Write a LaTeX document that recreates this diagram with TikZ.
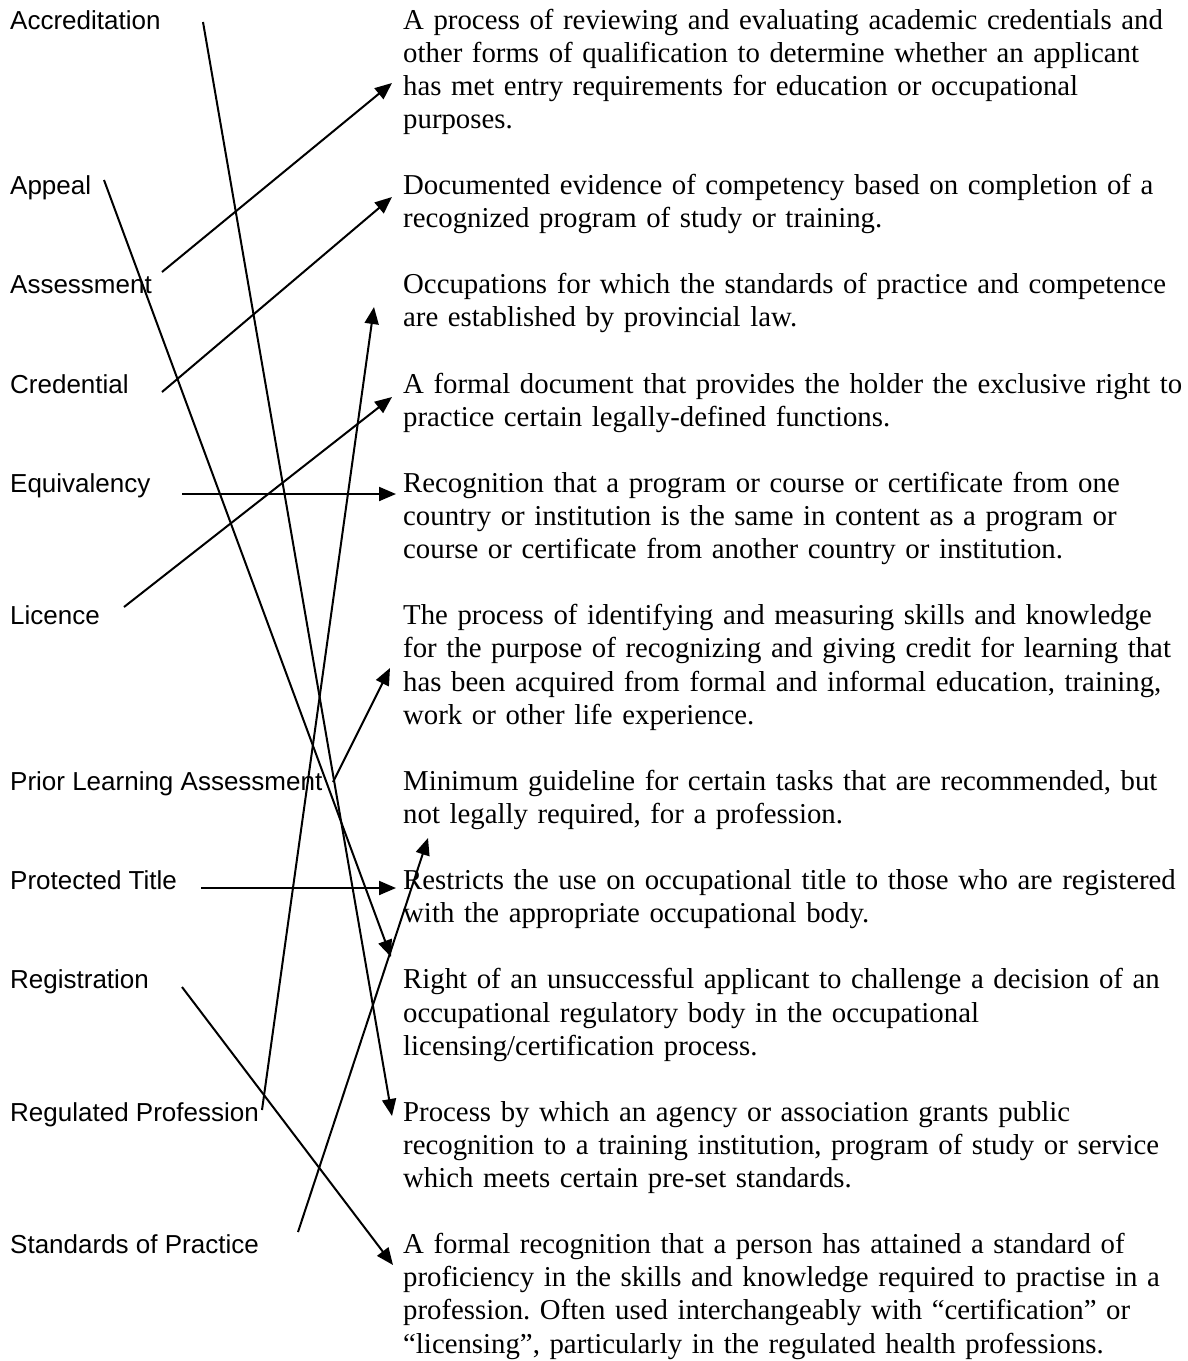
\documentclass[tikz,border=0pt]{standalone}
\usepackage{fontspec}
\setmainfont{Liberation Serif}
\setsansfont{Liberation Sans}
\usetikzlibrary{arrows.meta}
\frenchspacing

\begin{document}
\begin{tikzpicture}[x=1pt,y=-1pt,
  term/.style={anchor=base west,inner sep=0pt,font=\sffamily\fontsize{26}{31}\selectfont},
  defn/.style={anchor=base west,inner sep=0pt,text width=830pt,align=left,
    font=\rmfamily\fontsize{28.8}{33.1}\selectfont},
  link/.style={line width=2pt,-{Triangle[length=17pt,width=14pt]}}]
\useasboundingbox (0,0) rectangle (1188,1361);

% terms
\node[term] (acc)  at (10,29)     {Accreditation};
\node[term] (app)  at (10,194.5)  {Appeal};
\node[term] (ass)  at (10,293.8)  {Assessment};
\node[term] (cred) at (10,393.1)  {Credential};
\node[term] (equ)  at (10,492.4)  {Equivalency};
\node[term] (lic)  at (10,624.8)  {Licence};
\node[term] (pla)  at (10,790.3)  {Prior Learning Assessment};
\node[term] (prot) at (10,889.6)  {Protected Title};
\node[term] (reg)  at (10,988.9)  {Registration};
\node[term] (regp) at (10,1121.3) {Regulated Profession};
\node[term] (std)  at (10,1253.7) {Standards of Practice};

% definitions
\node[defn] (dass) at (403,29) {A process of reviewing and evaluating academic credentials and\\
other forms of qualification to determine whether an applicant\\
has met entry requirements for education or occupational\\
purposes.};
\node[defn] (dcred) at (403,194.5) {Documented evidence of competency based on completion of a\\
recognized program of study or training.};
\node[defn] (dregp) at (403,293.8) {Occupations for which the standards of practice and competence\\
are established by provincial law.};
\node[defn] (dlic) at (403,393.1) {A formal document that provides the holder the exclusive right to\\
practice certain legally-defined functions.};
\node[defn] (dequ) at (403,492.4) {Recognition that a program or course or certificate from one\\
country or institution is the same in content as a program or\\
course or certificate from another country or institution.};
\node[defn] (dpla) at (403,624.8) {The process of identifying and measuring skills and knowledge\\
for the purpose of recognizing and giving credit for learning that\\
has been acquired from formal and informal education, training,\\
work or other life experience.};
\node[defn] (dstd) at (403,790.3) {Minimum guideline for certain tasks that are recommended, but\\
not legally required, for a profession.};
\node[defn] (dprot) at (403,889.6) {Restricts the use on occupational title to those who are registered\\
with the appropriate occupational body.};
\node[defn] (dapp) at (403,988.9) {Right of an unsuccessful applicant to challenge a decision of an\\
occupational regulatory body in the occupational\\
licensing/certification process.};
\node[defn] (dacc) at (403,1121.3) {Process by which an agency or association grants public\\
recognition to a training institution, program of study or service\\
which meets certain pre-set standards.};
\node[defn] (dreg) at (403,1253.7) {A formal recognition that a person has attained a standard of\\
proficiency in the skills and knowledge required to practise in a\\
profession. Often used interchangeably with “certification” or\\
“licensing”, particularly in the regulated health professions.};

% line ends
\coordinate (acc-s)  at (203,22);   \coordinate (acc-e)  at (392,1116);
\coordinate (app-s)  at (104,180);  \coordinate (app-e)  at (391,957);
\coordinate (ass-s)  at (162,272);  \coordinate (ass-e)  at (392,83);
\coordinate (cred-s) at (162,392);  \coordinate (cred-e) at (392,197);
\coordinate (equ-s)  at (182,494);  \coordinate (equ-e)  at (396,494);
\coordinate (lic-s)  at (124,607);  \coordinate (lic-e)  at (392,397);
\coordinate (pla-s)  at (333,782);  \coordinate (pla-e)  at (390,668);
\coordinate (prot-s) at (201,888);  \coordinate (prot-e) at (396,888);
\coordinate (reg-s)  at (182,987);  \coordinate (reg-e)  at (393,1265);
\coordinate (regp-s) at (262,1110); \coordinate (regp-e) at (374,307);
\coordinate (std-s)  at (298,1232); \coordinate (std-e)  at (428,838);

% matching arrows
\draw[link] (acc-s) -- (acc-e);
\draw[link] (app-s) -- (app-e);
\draw[link] (ass-s) -- (ass-e);
\draw[link] (cred-s) -- (cred-e);
\draw[link] (equ-s) -- (equ-e);
\draw[link] (lic-s) -- (lic-e);
\draw[link] (pla-s) -- (pla-e);
\draw[link] (prot-s) -- (prot-e);
\draw[link] (reg-s) -- (reg-e);
\draw[link] (regp-s) -- (regp-e);
\draw[link] (std-s) -- (std-e);
\end{tikzpicture}
\end{document}
